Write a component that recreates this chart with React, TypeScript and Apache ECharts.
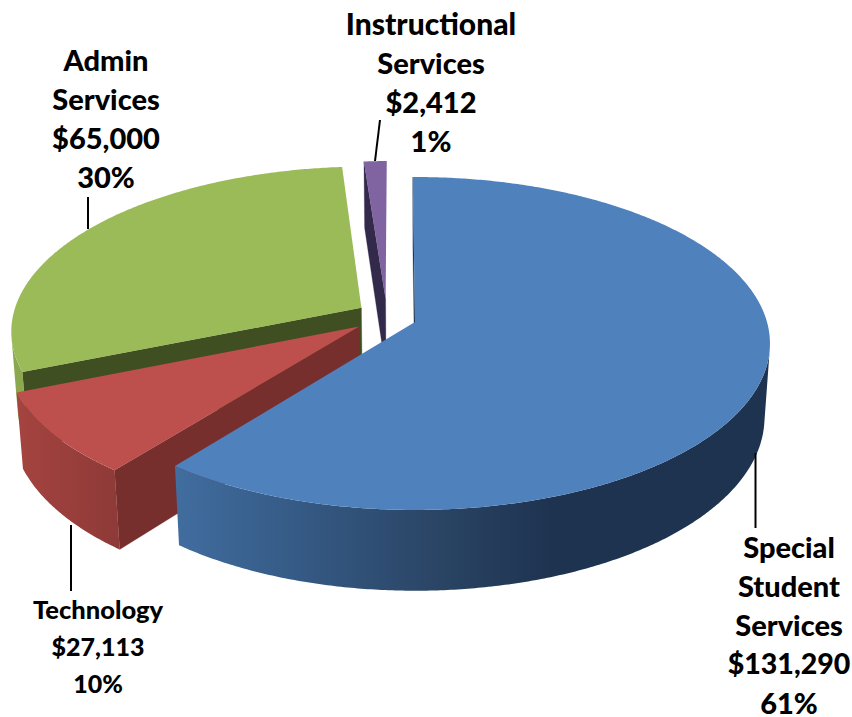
import React, { useEffect, useRef } from "react";
import * as echarts from "echarts";

// Data
const categories = ["Special Student Services", "Technology", "Admin Services", "Instructional Services"];
const amounts = ["$131,290", "$27,113", "$65,000", "$2,412"];
const percents = ["61%", "10%", "30%", "1%"];
// Share of the circle each slice really occupies in the picture (percent)
const sliceShares = [60.6, 8.25, 29.95, 1.2];
const startAngleDeg = -0.4;

// Styling
const topColors = ["#4f81bd", "#bd4f4c", "#9bbb59", "#8064a2"];
const radialWallColors = ["#1f3552", "#772f2e", "#404f21", "#33294a"];
const rimStops: [number, string][][] = [
  [[0, "#416d9f"], [0.32, "#355a85"], [0.69, "#2a4464"], [0.98, "#1e3350"], [1, "#1e3350"]],
  [[0, "#a4433f"], [1, "#8e3a38"]],
  [[0, "#8ca84f"], [1, "#8ca84f"]],
  [[0, "#4d3b63"], [1, "#4d3b63"]],
];
const rimRanges = [[175, 560], [20, 118], [10, 30], [360, 390]];
const explode = [[0, 0], [-0.158, 0.028], [-0.154, -0.0875], [-0.085, -0.141]];
const radii = [1, 0.99, 0.995, 0.985];
const drawOrder = [3, 2, 1, 0];

// Projection of the tilted disc
const CAM = { ox: 415, oy: 322, s: 352, t: 163.7, k: 0.129, m: 0.0154, q: 74.5 };
const project = (u: number, v: number, z: number): [number, number] => {
  const w = 1 - CAM.k * v + CAM.m * z;
  return [CAM.ox + (CAM.s * u) / w, CAM.oy + (CAM.t * v + CAM.q * z) / w];
};

// Labels
type Label = { index: number; x: number; y: number; lineHeight: number; lines: [string, number][] };
const splitName = (name: string, at: number) => {
  const w = name.split(" ");
  return [w.slice(0, at).join(" "), ...w.slice(at)];
};
const labelFont = "Lato, Carlito, sans-serif";
const labels: Label[] = [
  { index: 3, x: 431, y: 23, lineHeight: 39, lines: [[splitName(categories[3], 1)[0], 30], [splitName(categories[3], 1)[1], 29], [amounts[3], 29], [percents[3], 29]] },
  { index: 2, x: 106, y: 59, lineHeight: 39, lines: [...splitName(categories[2], 1).map((s) => [s, 29] as [string, number]), [amounts[2], 29], [percents[2], 29]] },
  { index: 0, x: 789, y: 546, lineHeight: 39, lines: [...splitName(categories[0], 1).map((s) => [s, 29] as [string, number]), [amounts[0], 28.5], [percents[0], 29]] },
  { index: 1, x: 98, y: 609, lineHeight: 37, lines: [[categories[1], 25.5], [amounts[1], 25], [percents[1], 25]] },
];
const leaders = [
  [88, 197, 88, 229],
  [380, 120, 375, 161],
  [755.5, 453, 755.5, 528],
  [71, 525, 71, 591],
];

const rad = (d: number) => (d * Math.PI) / 180;

function renderSlice(params: any, api: any) {
  const idx = api.value(1) as number;
  const total = sliceShares.reduce((a, b) => a + b, 0);
  let a0 = startAngleDeg;
  for (let i = 0; i < idx; i++) a0 += (sliceShares[i] / total) * 360;
  const a1 = a0 + ((api.value(0) as number) / total) * 360;
  const [du, dv] = explode[idx];
  const r = radii[idx];
  const rimAt = (deg: number, z: number) => project(du + r * Math.sin(rad(deg)), dv - r * Math.cos(rad(deg)), z);

  const angles: number[] = [];
  const n = Math.max(4, Math.ceil((a1 - a0) / 0.5));
  for (let i = 0; i <= n; i++) angles.push(a0 + ((a1 - a0) * i) / n);

  const children: any[] = [];

  // Radial wall at the slice's first edge
  children.push({
    type: "polygon",
    silent: true,
    shape: { points: [project(du, dv, 0), rimAt(a0, 0), rimAt(a0, 1), project(du, dv, 1)] },
    style: { fill: radialWallColors[idx], stroke: radialWallColors[idx], lineWidth: 0.3 },
  });

  // Outer wall: only the part that faces the viewer
  const front: number[] = [];
  for (let i = 0; i < n; i++) {
    const q = [rimAt(angles[i], 0), rimAt(angles[i + 1], 0), rimAt(angles[i + 1], 1), rimAt(angles[i], 1)];
    let area = 0;
    for (let j = 0; j < 4; j++) {
      const p = q[j];
      const s = q[(j + 1) % 4];
      area += p[0] * s[1] - s[0] * p[1];
    }
    if (area < 0) front.push(i);
  }
  if (front.length) {
    const top: [number, number][] = [];
    const bottom: [number, number][] = [];
    const first = front[0];
    const last = front[front.length - 1];
    for (let i = first; i <= last + 1; i++) {
      top.push(rimAt(angles[i], 0));
      bottom.unshift(rimAt(angles[i], 1));
    }
    children.push({
      type: "polygon",
      silent: true,
      shape: { points: [...top, ...bottom] },
      style: {
        fill: new echarts.graphic.LinearGradient(
          rimRanges[idx][0], 0, rimRanges[idx][1], 0,
          rimStops[idx].map(([offset, color]) => ({ offset, color })),
          true
        ),
      },
    });
  }

  // Top face
  const face: [number, number][] = [project(du, dv, 0), ...angles.map((a) => rimAt(a, 0))];
  children.push({
    type: "polygon",
    silent: true,
    shape: { points: face },
    style: { fill: topColors[idx] },
  });

  return { type: "group", children };
}

export default function App() {
  const ref = useRef<HTMLDivElement>(null);
  useEffect(() => {
    const chart = echarts.init(ref.current!, undefined, { renderer: "svg" });
    const graphic: any[] = [];
    leaders.forEach(([x1, y1, x2, y2]) =>
      graphic.push({
        type: "line",
        silent: true,
        shape: { x1, y1, x2, y2 },
        style: { stroke: "#000", lineWidth: 2 },
        z: 10,
      })
    );
    labels.forEach((l) =>
      l.lines.forEach(([text, size], i) =>
        graphic.push({
          type: "text",
          silent: true,
          x: l.x,
          y: l.y + i * l.lineHeight,
          z: 10,
          style: {
            text,
            fill: "#000",
            font: `900 ${size}px ${labelFont}`,
            textAlign: "center",
            textVerticalAlign: "middle",
          },
        })
      )
    );
    chart.setOption({
      animation: false,
      backgroundColor: "#fff",
      graphic,
      series: [
        {
          type: "custom",
          coordinateSystem: "none",
          renderItem: renderSlice,
          silent: true,
          data: drawOrder.map((i) => ({ name: categories[i], value: [sliceShares[i], i] })),
        },
      ],
    });
    return () => chart.dispose();
  }, []);
  return <div ref={ref} style={{ position: "absolute", left: 0, top: 0, width: 852, height: 717 }} />;
}
